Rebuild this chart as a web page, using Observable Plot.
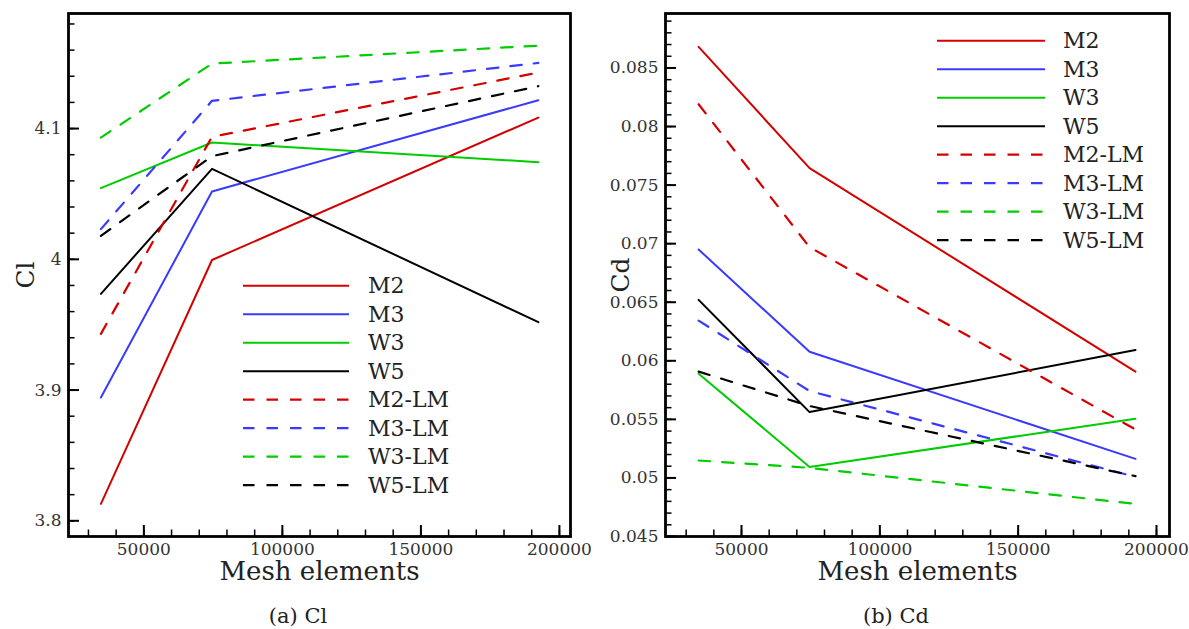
<!DOCTYPE html>
<html>
<head>
<meta charset="utf-8">
<script src="https://cdn.jsdelivr.net/npm/d3@7"></script>
<script src="https://cdn.jsdelivr.net/npm/@observablehq/plot@0.6"></script>
<style>
  body { margin: 0; background: #fff; }
  #wrap { position: relative; width: 1189px; height: 629px; overflow: hidden; font-family: "DejaVu Serif", serif; background: #fff; }
  #left, #right { position: absolute; top: 0; }
  #left { left: 0; }
  #right { left: 595px; }
  #overlay { position: absolute; left: 0; top: 0; pointer-events: none; }
</style>
</head>
<body>
<div id="wrap">
  <div id="left"></div>
  <div id="right"></div>
  <svg id="overlay" width="1189" height="629"></svg>
</div>
<script>
// ---- data ----
const meshElements = [34500, 74600, 192400];
const seriesNames = ["M2", "M3", "W3", "W5", "M2-LM", "M3-LM", "W3-LM", "W5-LM"];

const clM2   = [3.813, 3.9995, 4.1084];
const clM3   = [3.8943, 4.0519, 4.1217];
const clW3   = [4.0545, 4.0893, 4.0743];
const clW5   = [3.9736, 4.0692, 3.9519];
const clM2LM = [3.943, 4.0937, 4.1428];
const clM3LM = [4.0231, 4.1212, 4.1502];
const clW3LM = [4.0931, 4.1497, 4.1634];
const clW5LM = [4.018, 4.0789, 4.1324];

const cdM2   = [0.0868, 0.07645, 0.05908];
const cdM3   = [0.0695, 0.06077, 0.05163];
const cdW3   = [0.0589, 0.05094, 0.05505];
const cdW5   = [0.0652, 0.05562, 0.06092];
const cdM2LM = [0.0819, 0.0697, 0.05414];
const cdM3LM = [0.06343, 0.05742, 0.05009];
const cdW3LM = [0.05149, 0.05086, 0.04778];
const cdW5LM = [0.05908, 0.05614, 0.05015];

const xTickValues = [50000, 100000, 150000, 200000];
const clTickValues = [3.8, 3.9, 4.0, 4.1];
const cdTickValues = [0.045, 0.05, 0.055, 0.06, 0.065, 0.07, 0.075, 0.08, 0.085];

const xAxisTitle = "Mesh elements";
const captions = ["(a) Cl", "(b) Cd"];

// ---- styles ----
const seriesColors = ["#d40000", "#3a3aff", "#00cc00", "#000000", "#d40000", "#3a3aff", "#00cc00", "#000000"];
const dashPattern = "11.5,12";
const FONT = '"DejaVu Serif", serif';

const xMinor = d3.range(30000, 200001, 10000);

function buildRows(valueArrays) {
  const rows = [];
  seriesNames.forEach((s, i) => {
    valueArrays[i].forEach((v, j) => rows.push({series: s, mesh: meshElements[j], value: v, dashed: s.endsWith("-LM")}));
  });
  return rows;
}

function panel({values, xDomain, yDomain, yMajor, yMinor, yLabel, width, marginLeft, marginRight, yLabelDx}) {
  const rows = buildRows(values);
  return Plot.plot({
    width, height: 590,
    marginLeft, marginRight, marginTop: 13, marginBottom: 54,
    style: {fontFamily: FONT, background: "white", overflow: "visible"},
    x: {domain: xDomain},
    y: {domain: yDomain},
    color: {domain: seriesNames, range: seriesColors},
    marks: [
      Plot.line(rows.filter(d => !d.dashed), {x: "mesh", y: "value", z: "series", stroke: "series", strokeWidth: 2}),
      Plot.line(rows.filter(d => d.dashed), {x: "mesh", y: "value", z: "series", stroke: "series", strokeWidth: 2.2, strokeDasharray: dashPattern}),
      Plot.axisX(xMinor, {tickSize: -6.5, fill: "none", stroke: "black", strokeWidth: 1.5, label: null}),
      Plot.axisX(xTickValues, {tickSize: -11, fill: "none", stroke: "black", strokeWidth: 2, label: null}),
      Plot.axisX(xTickValues, {tickSize: 0, tickPadding: 6, tickFormat: d3.format("d"), fontSize: 17, fill: "#333", label: null}),
      Plot.axisY(yMinor, {tickSize: -6.5, fill: "none", stroke: "black", strokeWidth: 1.5, label: null}),
      Plot.axisY(yMajor, {tickSize: -11, fill: "none", stroke: "black", strokeWidth: 2, label: null}),
      Plot.axisY(yMajor, {tickSize: 0, tickPadding: 7, tickFormat: d3.format("~g"), fontSize: 17, fill: "#333", label: null}),
      Plot.frame({stroke: "black", strokeWidth: 2.8}),
      Plot.text([xAxisTitle], {text: d => d, frameAnchor: "bottom", dy: 43, fontSize: 26, fill: "#222"}),
      Plot.text([yLabel], {text: d => d, frameAnchor: "left", textAnchor: "middle", rotate: -90, dx: yLabelDx, fontSize: 25, fill: "#222"})
    ]
  });
}

const clMinor = d3.range(3.8, 4.181, 0.02).map(v => +v.toFixed(3));
const cdMinor = d3.range(0.045, 0.0895, 0.001).map(v => +v.toFixed(4));

document.getElementById("left").append(panel({
  values: [clM2, clM3, clW3, clW5, clM2LM, clM3LM, clW3LM, clW5LM],
  xDomain: [22800, 204000],
  yDomain: [3.788, 4.188], yMajor: clTickValues, yMinor: clMinor, yLabel: "Cl",
  width: 595, marginLeft: 68, marginRight: 25, yLabelDx: -43
}));

document.getElementById("right").append(panel({
  values: [cdM2, cdM3, cdW3, cdW5, cdM2LM, cdM3LM, cdW3LM, cdW5LM],
  xDomain: [22530, 204700],
  yDomain: [0.045, 0.08965], yMajor: cdTickValues, yMinor: cdMinor, yLabel: "Cd",
  width: 594, marginLeft: 70, marginRight: 20, yLabelDx: -45
}));

// ---- legends & captions ----
const overlay = d3.select("#overlay");
function legend(x1, x2, tx, y0, step) {
  const g = overlay.append("g");
  seriesNames.forEach((s, i) => {
    const y = y0 + i * step;
    g.append("line").attr("x1", x1).attr("x2", x2).attr("y1", y).attr("y2", y)
      .attr("stroke", seriesColors[i]).attr("stroke-width", s.endsWith("-LM") ? 2.2 : 2)
      .attr("stroke-dasharray", s.endsWith("-LM") ? dashPattern : null);
    g.append("text").attr("x", tx).attr("y", y).attr("dy", "0.35em")
      .attr("font-family", FONT).attr("font-size", 22).attr("fill", "#222").text(s);
  });
}
legend(243, 349, 368, 285.7, 28.5);
legend(937, 1045, 1063, 40.7, 28.5);

[[298, captions[0]], [896, captions[1]]].forEach(([cx, t]) => {
  overlay.append("text").attr("x", cx).attr("y", 623).attr("text-anchor", "middle")
    .attr("font-family", FONT).attr("font-size", 21).attr("fill", "#222").text(t);
});
</script>
</body>
</html>
